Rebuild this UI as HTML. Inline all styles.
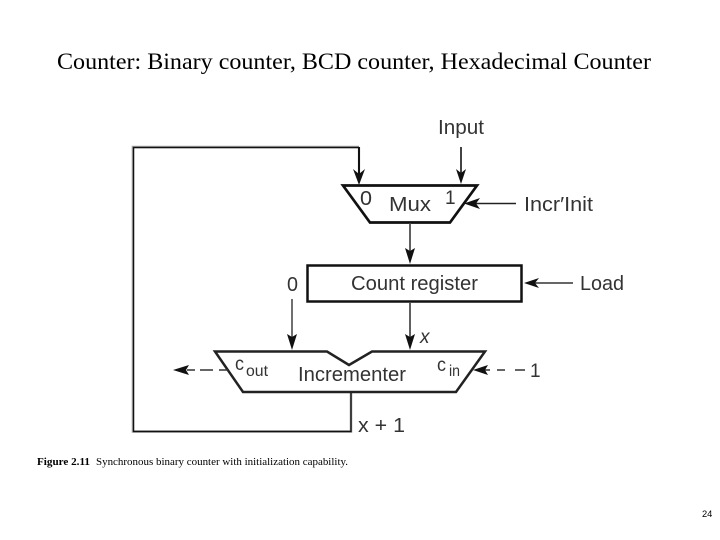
<!DOCTYPE html>
<html>
<head>
<meta charset="utf-8">
<style>
html,body{margin:0;padding:0;background:#fff;width:720px;height:540px;overflow:hidden}
svg{display:block}
.d{font-family:"Liberation Sans",sans-serif;fill:#333}
.g{filter:blur(0.35px)}
</style>
</head>
<body>
<svg width="720" height="540" viewBox="0 0 720 540" xmlns="http://www.w3.org/2000/svg">
<rect width="720" height="540" fill="#fff"/>
<text x="57" y="69" font-family="'Liberation Serif',serif" font-size="23" fill="#000" textLength="594" lengthAdjust="spacingAndGlyphs">Counter: Binary counter, BCD counter, Hexadecimal Counter</text>

<g class="g">
<!-- feedback -->
<path d="M351 392V431.5H133V147H359" fill="none" stroke="#aaa" stroke-width="2.6"/>
<path d="M351 392V431.5H133.5V147.5H359" fill="none" stroke="#111" stroke-width="1.4"/>
<path d="M359 147V180" fill="none" stroke="#111" stroke-width="2.1"/>
<path d="M359 185L353 169L359 174L365 169Z" fill="#111"/>

<!-- input -->
<path d="M461 147V180" stroke="#222" stroke-width="1.7" fill="none"/>
<path d="M461 184L456 169L461 173L466 169Z" fill="#111"/>

<!-- mux -->
<path d="M343 185.500H477L450 222.500H370Z" fill="#fff" stroke="#111" stroke-width="2.700"/>
<path d="M516 203.500H470" stroke="#222" stroke-width="1.500" fill="none"/>
<path d="M464 203.500L480 198L476 203.500L480 209Z" fill="#111"/>

<!-- mux to register -->
<path d="M410 223V255" stroke="#444" stroke-width="1.700" fill="none"/>
<path d="M410 264L405 248L410 251L415 248Z" fill="#111"/>

<!-- register -->
<rect x="307.500" y="265.500" width="214" height="36" fill="#fff" stroke="#111" stroke-width="2.500"/>
<path d="M573 283H530" stroke="#333" stroke-width="1.500" fill="none"/>
<path d="M524 283L539 278L535 283L539 288Z" fill="#111"/>

<!-- arrows to incrementer -->
<path d="M292 299V340" stroke="#222" stroke-width="1.300" fill="none"/>
<path d="M292 350L287 334L292 337L297 334Z" fill="#111"/>
<path d="M410 303V340" stroke="#444" stroke-width="1.700" fill="none"/>
<path d="M410 350L405 334L410 337L415 334Z" fill="#111"/>

<!-- incrementer -->
<path d="M215 351.500H327L349 365L372 351.500H485L456 392H243Z" fill="#fff" stroke="#222" stroke-width="2.500"/>

<!-- carry dashes -->
<path d="M228 370H219M213 370H200M195 370H187" stroke="#333" stroke-width="1.500" fill="none"/>
<path d="M173 370L189 365L186 370L189 375Z" fill="#111"/>
<path d="M525 370H515M505 370H497M490 370H482" stroke="#333" stroke-width="1.500" fill="none"/>
<path d="M473 370L488 365L485 370L488 375Z" fill="#111"/>

<!-- labels -->
<text class="d" x="438" y="134" font-size="20.500" textLength="46" lengthAdjust="spacingAndGlyphs">Input</text>
<text class="d" x="360" y="205" font-size="20" textLength="12" lengthAdjust="spacingAndGlyphs">0</text>
<text class="d" x="389" y="211" font-size="20" textLength="42" lengthAdjust="spacingAndGlyphs">Mux</text>
<text class="d" x="445" y="204" font-size="19">1</text>
<text class="d" x="524" y="211" font-size="20" textLength="69" lengthAdjust="spacingAndGlyphs">Incr′Init</text>
<text class="d" x="351" y="290" font-size="20" textLength="127" lengthAdjust="spacingAndGlyphs">Count register</text>
<text class="d" x="580" y="290" font-size="20" textLength="44" lengthAdjust="spacingAndGlyphs">Load</text>
<text class="d" x="287" y="291" font-size="20" textLength="11" lengthAdjust="spacingAndGlyphs">0</text>
<text class="d" x="420" y="343" font-size="19" font-style="italic">x</text>
<text class="d" x="235" y="370" font-size="19" textLength="9" lengthAdjust="spacingAndGlyphs">c</text>
<text class="d" x="246" y="376" font-size="15.500" textLength="22" lengthAdjust="spacingAndGlyphs">out</text>
<text class="d" x="298" y="381" font-size="20" textLength="108" lengthAdjust="spacingAndGlyphs">Incrementer</text>
<text class="d" x="437" y="371" font-size="19" textLength="9" lengthAdjust="spacingAndGlyphs">c</text>
<text class="d" x="449" y="376" font-size="15.500" textLength="11" lengthAdjust="spacingAndGlyphs">in</text>
<text class="d" x="530" y="377" font-size="19">1</text>
<text class="d" x="358" y="432" font-size="20" textLength="47" lengthAdjust="spacingAndGlyphs">x + 1</text>
</g>

<!-- caption -->
<text x="37" y="465" font-family="'Liberation Serif',serif" font-size="10.700" fill="#000" font-weight="bold" textLength="53" lengthAdjust="spacingAndGlyphs">Figure 2.11</text>
<text x="96" y="465" font-family="'Liberation Serif',serif" font-size="10.700" fill="#000" textLength="252" lengthAdjust="spacingAndGlyphs">Synchronous binary counter with initialization capability.</text>
<text x="702" y="517" font-family="'Liberation Sans',sans-serif" font-size="9.300" fill="#000">24</text>
</svg>
</body>
</html>
